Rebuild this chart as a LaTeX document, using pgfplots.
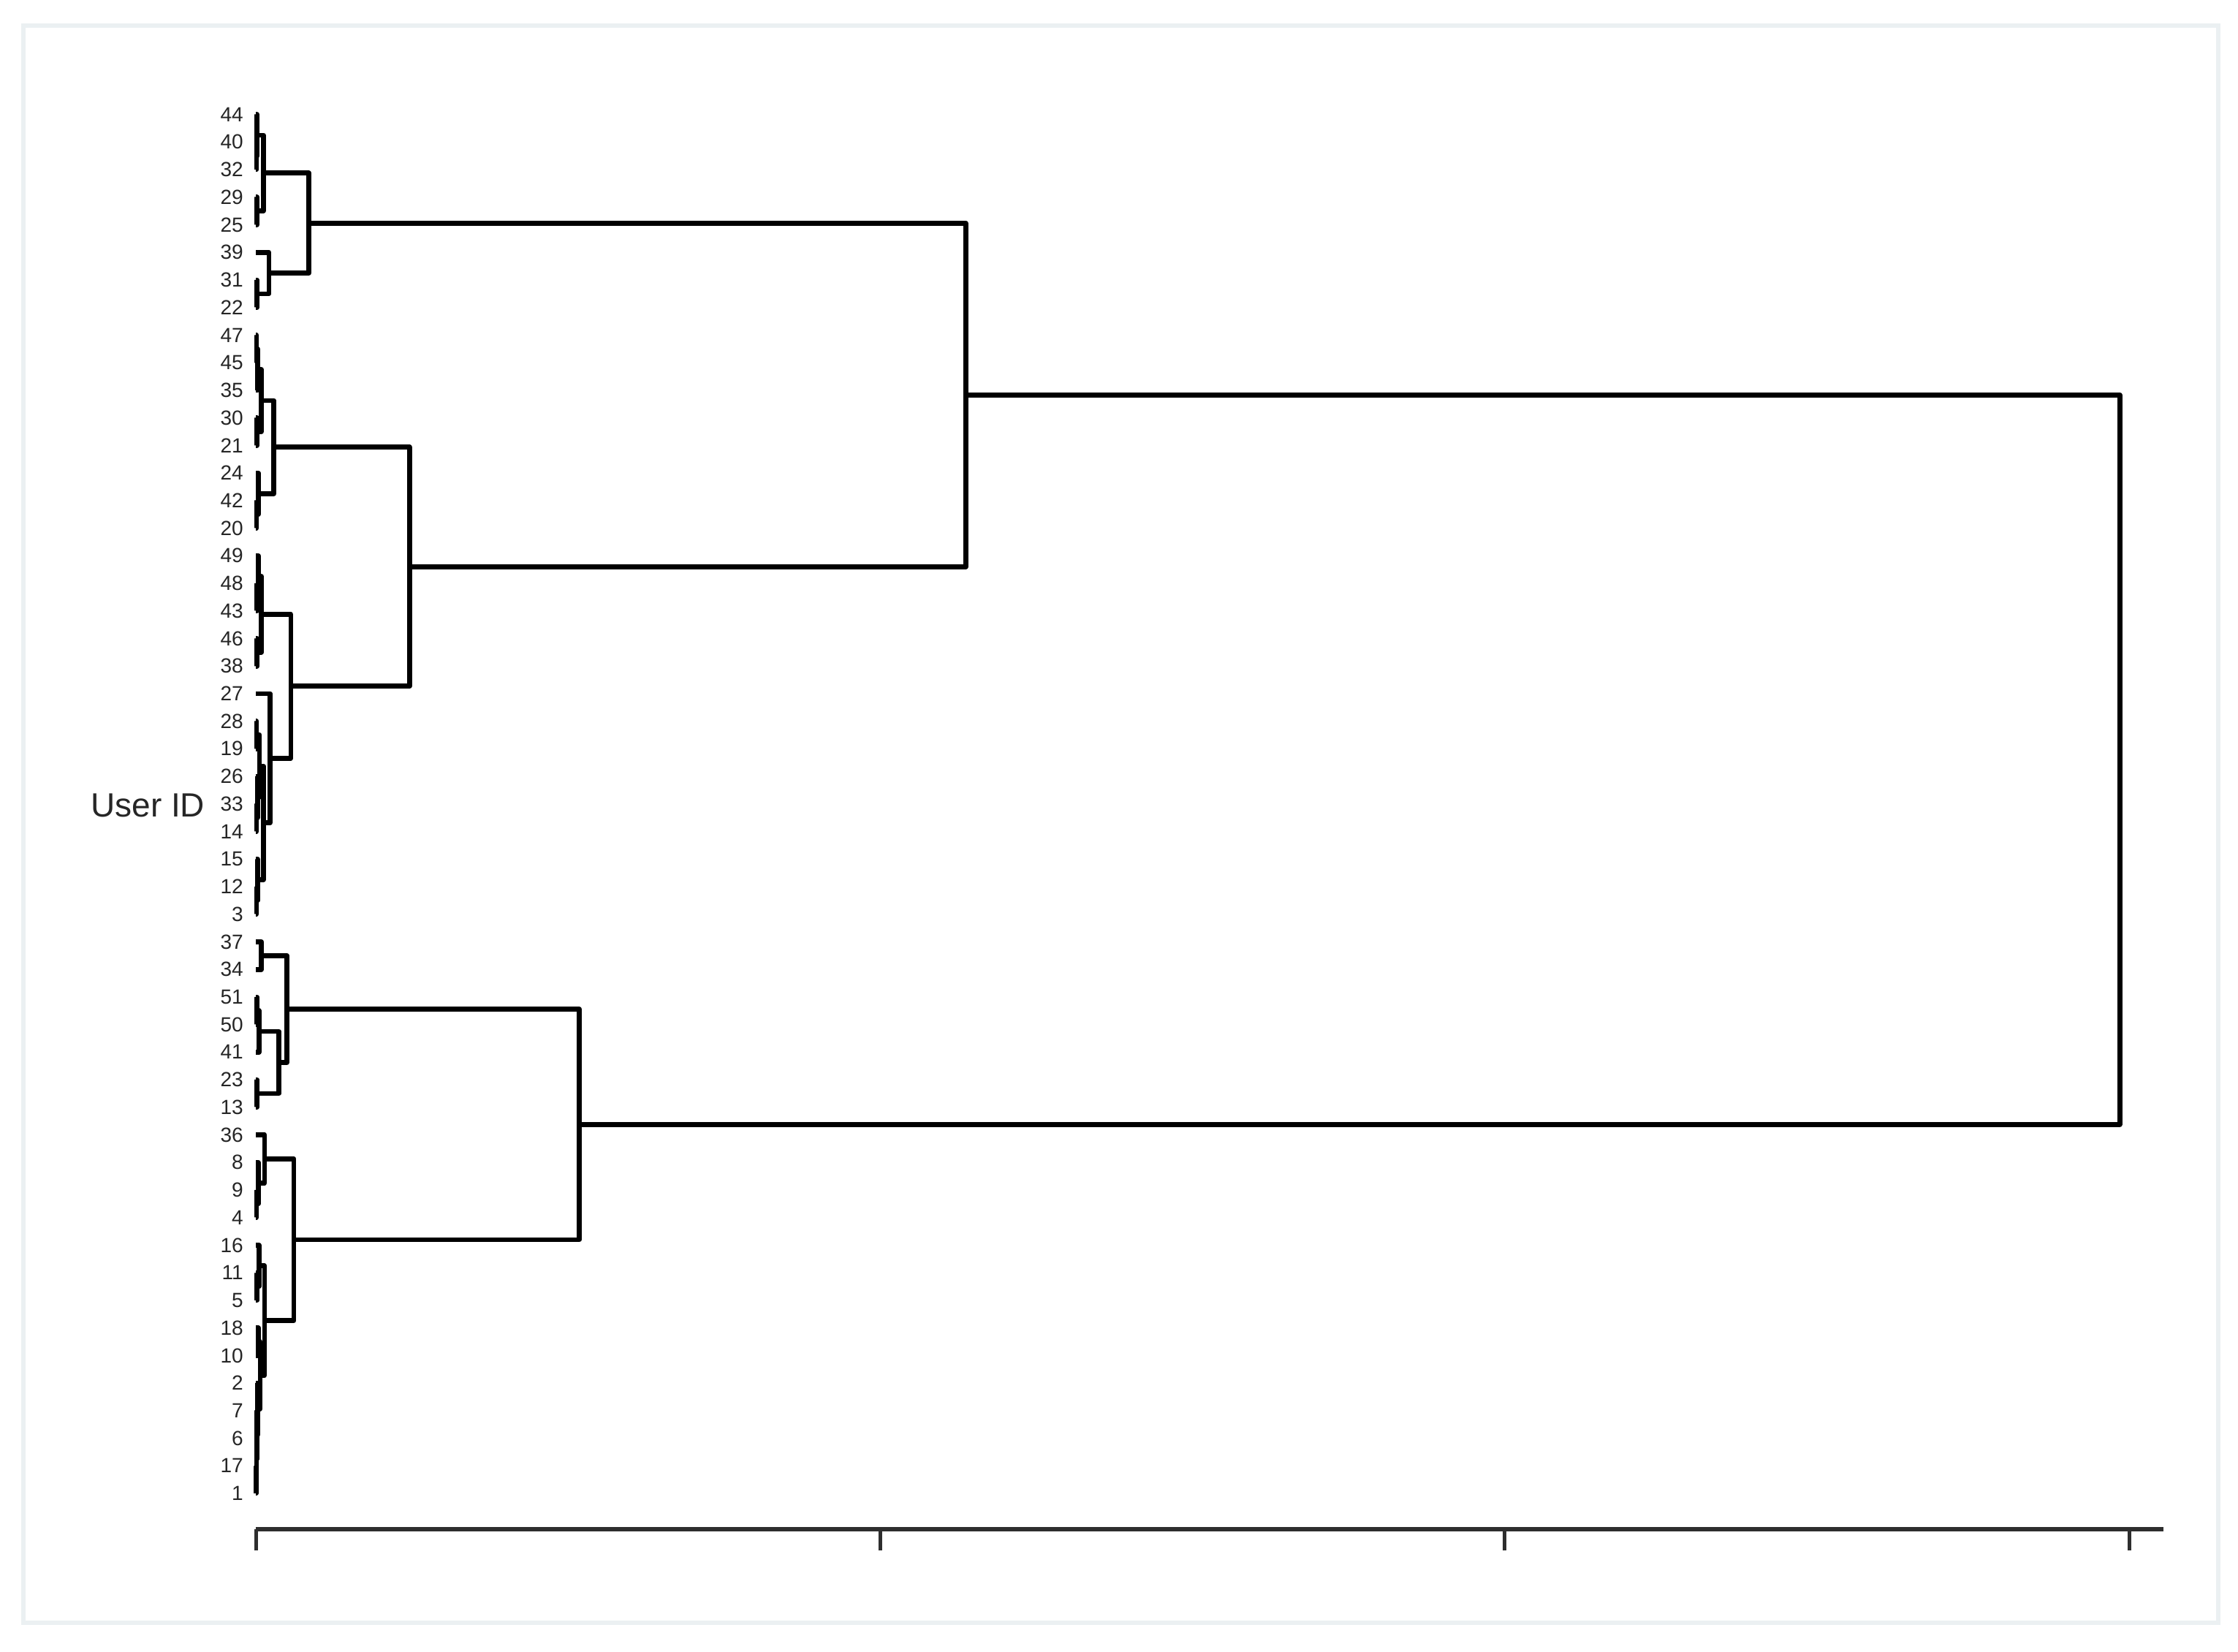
\documentclass[border=0pt]{standalone}
\usepackage{pgfplots}
\pgfplotsset{compat=1.18}
\usepackage{fontspec}
\setmainfont{Liberation Sans}
\definecolor{framecol}{HTML}{EBF0F2}
\definecolor{axiscol}{HTML}{2E2E2E}
\definecolor{labcol}{HTML}{262626}
\begin{document}
\begin{tikzpicture}
\useasboundingbox (0,0) rectangle (459.3pt,-339pt);
\fill[white] (0,0) rectangle (459.3pt,-339pt);
\draw[framecol, line width=0.9pt] (4.8pt,-5.25pt) rectangle (455.25pt,-333pt);
\begin{axis}[
  at={(52.5pt,-313.8pt)}, anchor=south west,
  scale only axis, width=391.5pt, height=297.1pt,
  xmin=0, xmax=3.055, ymin=-1.2, ymax=51.3, y dir=reverse,
  clip=false,
  axis x line*=bottom, axis y line*=left,
  x axis line style={-, axiscol, line width=0.95pt},
  y axis line style={draw=none},
  xtick={0,1,2,3}, xticklabels={,,,},
  tick align=outside, major tick length=4.4pt,
  xtick style={axiscol, line width=0.75pt},
  ytick={0,...,50},
  yticklabels={44,40,32,29,25,39,31,22,47,45,35,30,21,24,42,20,49,48,43,46,38,27,28,19,26,33,14,15,12,3,37,34,51,50,41,23,13,36,8,9,4,16,11,5,18,10,2,7,6,17,1},
  ytick style={draw=none},
  yticklabel style={font=\fontsize{4.2}{5}\selectfont, text=labcol, inner sep=0pt, xshift=2pt},
  ylabel={User ID},
  every axis y label/.style={at={(ticklabel cs:0.5)}, anchor=east, font=\fontsize{6.9}{8}\selectfont, text=labcol, inner sep=3pt},
  cycle list={{black, solid, mark=none}},
  every axis plot post/.append style={black, solid, line width=1.0pt, line join=round, mark=none},
]
% cluster A
\addplot coordinates {(0,1)(0.001,1)(0.001,2)(0,2)};
\addplot coordinates {(0,0)(0.002,0)(0.002,1.5)(0.001,1.5)};
\addplot coordinates {(0,3)(0.002,3)(0.002,4)(0,4)};
\addplot coordinates {(0.002,0.75)(0.012,0.75)(0.012,3.5)(0.002,3.5)};
\addplot coordinates {(0,6)(0.002,6)(0.002,7)(0,7)};
\addplot coordinates {(0,5)(0.021,5)(0.021,6.5)(0.002,6.5)};
\addplot coordinates {(0.012,2.125)(0.085,2.125)(0.085,5.75)(0.021,5.75)};
% cluster B1
\addplot coordinates {(0,8)(0.001,8)(0.001,9)(0,9)};
\addplot coordinates {(0.001,8.5)(0.003,8.5)(0.003,10)(0,10)};
\addplot coordinates {(0,11)(0.002,11)(0.002,12)(0,12)};
\addplot coordinates {(0.003,9.25)(0.009,9.25)(0.009,11.5)(0.002,11.5)};
\addplot coordinates {(0,14)(0.001,14)(0.001,15)(0,15)};
\addplot coordinates {(0,13)(0.004,13)(0.004,14.5)(0.001,14.5)};
\addplot coordinates {(0.009,10.375)(0.029,10.375)(0.029,13.75)(0.004,13.75)};
% cluster B2
\addplot coordinates {(0,17)(0.002,17)(0.002,18)(0,18)};
\addplot coordinates {(0,16)(0.004,16)(0.004,17.5)(0.002,17.5)};
\addplot coordinates {(0,19)(0.002,19)(0.002,20)(0,20)};
\addplot coordinates {(0.004,16.75)(0.009,16.75)(0.009,19.5)(0.002,19.5)};
\addplot coordinates {(0,22)(0.001,22)(0.001,23)(0,23)};
\addplot coordinates {(0,25)(0.001,25)(0.001,26)(0,26)};
\addplot coordinates {(0,24)(0.003,24)(0.003,25.5)(0.001,25.5)};
\addplot coordinates {(0.001,22.5)(0.006,22.5)(0.006,24.75)(0.003,24.75)};
\addplot coordinates {(0,28)(0.001,28)(0.001,29)(0,29)};
\addplot coordinates {(0,27)(0.003,27)(0.003,28.5)(0.001,28.5)};
\addplot coordinates {(0.006,23.625)(0.012,23.625)(0.012,27.75)(0.003,27.75)};
\addplot coordinates {(0,21)(0.023,21)(0.023,25.6875)(0.012,25.6875)};
\addplot coordinates {(0.009,18.125)(0.056,18.125)(0.056,23.34)(0.023,23.34)};
% B and top
\addplot coordinates {(0.029,12.0625)(0.246,12.0625)(0.246,20.73)(0.056,20.73)};
\addplot coordinates {(0.085,3.9375)(1.137,3.9375)(1.137,16.40)(0.246,16.40)};
% cluster C
\addplot coordinates {(0,30)(0.009,30)(0.009,31)(0,31)};
\addplot coordinates {(0,32)(0.002,32)(0.002,33)(0,33)};
\addplot coordinates {(0.002,32.5)(0.005,32.5)(0.005,34)(0,34)};
\addplot coordinates {(0,35)(0.002,35)(0.002,36)(0,36)};
\addplot coordinates {(0.005,33.25)(0.037,33.25)(0.037,35.5)(0.002,35.5)};
\addplot coordinates {(0.009,30.5)(0.050,30.5)(0.050,34.375)(0.037,34.375)};
% cluster D
\addplot coordinates {(0,39)(0.001,39)(0.001,40)(0,40)};
\addplot coordinates {(0,38)(0.004,38)(0.004,39.5)(0.001,39.5)};
\addplot coordinates {(0,37)(0.014,37)(0.014,38.75)(0.004,38.75)};
\addplot coordinates {(0,42)(0.002,42)(0.002,43)(0,43)};
\addplot coordinates {(0,41)(0.005,41)(0.005,42.5)(0.002,42.5)};
\addplot coordinates {(0,49)(0.0005,49)(0.0005,50)(0,50)};
\addplot coordinates {(0,48)(0.001,48)(0.001,49.5)(0.0005,49.5)};
\addplot coordinates {(0,47)(0.002,47)(0.002,48.75)(0.001,48.75)};
\addplot coordinates {(0,46)(0.003,46)(0.003,47.875)(0.002,47.875)};
\addplot coordinates {(0,44)(0.004,44)(0.004,45)(0,45)};
\addplot coordinates {(0.004,44.5)(0.007,44.5)(0.007,46.9375)(0.003,46.9375)};
\addplot coordinates {(0.005,41.75)(0.014,41.75)(0.014,45.72)(0.007,45.72)};
\addplot coordinates {(0.014,37.875)(0.061,37.875)(0.061,43.73)(0.014,43.73)};
% bottom and root
\addplot coordinates {(0.050,32.44)(0.518,32.44)(0.518,40.80)(0.061,40.80)};
\addplot coordinates {(1.137,10.17)(2.985,10.17)(2.985,36.62)(0.518,36.62)};
\end{axis}
\end{tikzpicture}
\end{document}
